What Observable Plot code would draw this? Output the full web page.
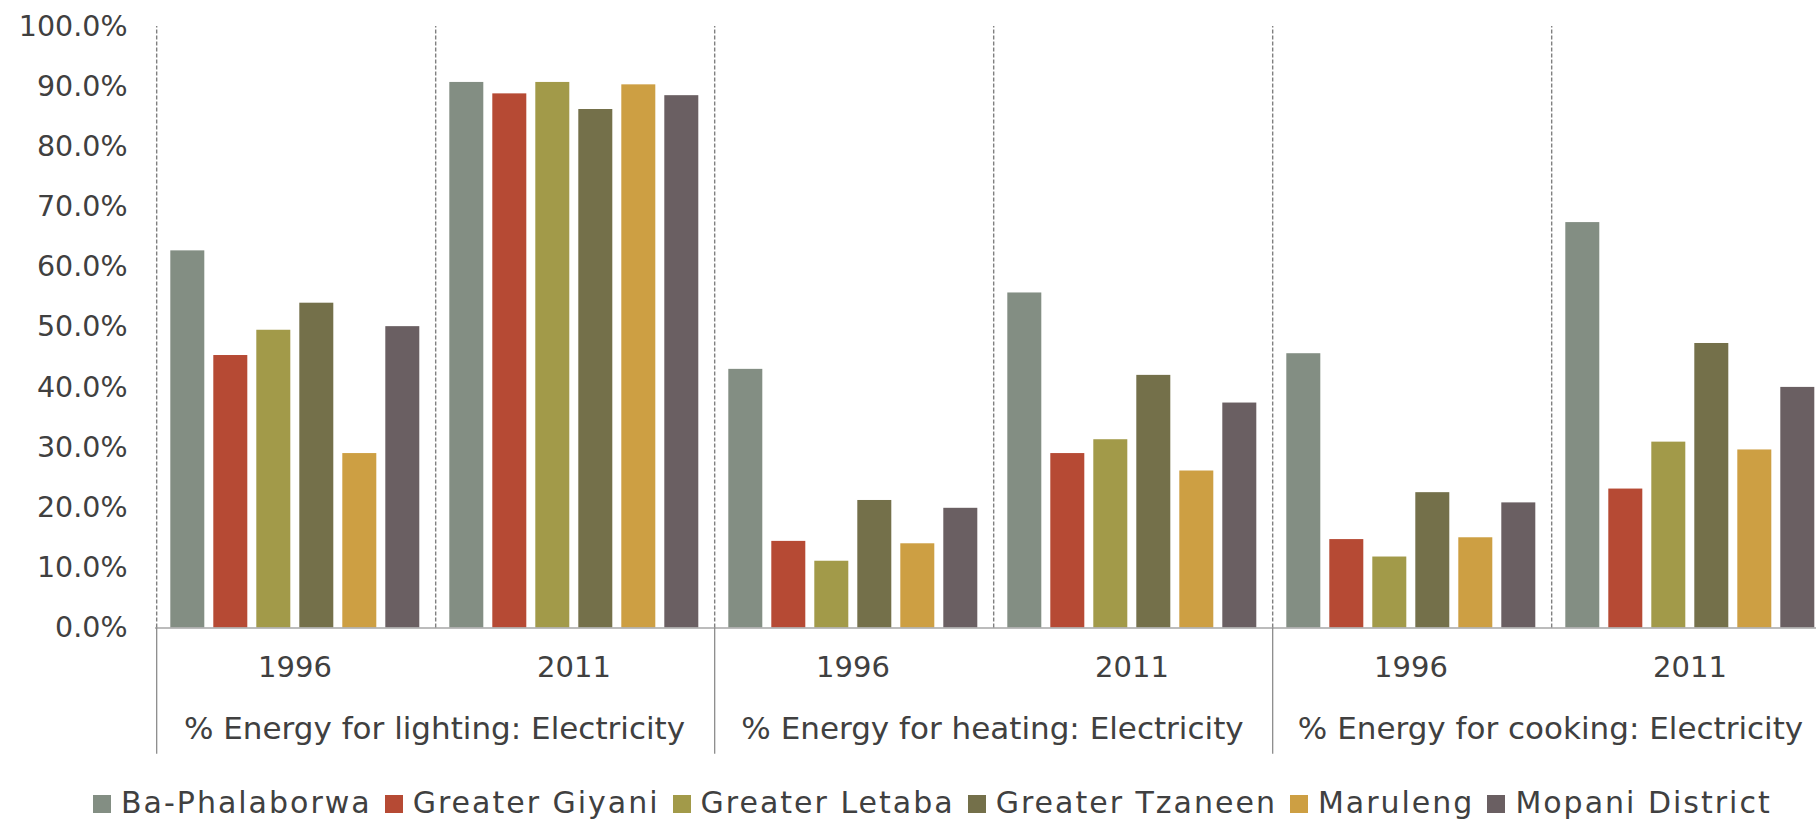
<!DOCTYPE html>
<html>
<head>
<meta charset="utf-8">
<script src="https://cdn.jsdelivr.net/npm/d3@7"></script>
<script src="https://cdn.jsdelivr.net/npm/@observablehq/plot@0.6"></script>
<style>
  html, body { margin: 0; padding: 0; background: #fff; overflow: hidden; width: 1816px; height: 819px; }
  #chart svg { display: block; }
  #legend { display: flex; align-items: baseline; height: 31px; padding-top: 16px; padding-left: 93px;
            font-family: "DejaVu Sans"; font-size: 30px; line-height: 30px; letter-spacing: 2px;
            color: #404040; white-space: nowrap; }
  #legend .item { display: flex; align-items: baseline; margin-right: 13px; }
  #legend .sw { display: inline-block; width: 18px; height: 18px; margin-right: 10px; }
</style>
</head>
<body>
<div id="chart"></div>
<div id="legend"></div>
<script>
// ---- data ----
const categories = ["% Energy for lighting: Electricity", "% Energy for heating: Electricity", "% Energy for cooking: Electricity"];
const years = ["1996", "2011"];
const districts = ["Ba-Phalaborwa", "Greater Giyani", "Greater Letaba", "Greater Tzaneen", "Maruleng", "Mopani District"];
const colors = ["#838e83", "#b64a34", "#a29a49", "#74704a", "#cd9f43", "#6a5f62"];

const lighting1996 = [62.7, 45.3, 49.5, 54.0, 29.0, 50.1];
const lighting2011 = [90.7, 88.8, 90.7, 86.2, 90.3, 88.5];
const heating1996  = [43.0, 14.4, 11.1, 21.2, 14.0, 19.9];
const heating2011  = [55.7, 29.0, 31.3, 42.0, 26.1, 37.4];
const cooking1996  = [45.6, 14.7, 11.8, 22.5, 15.0, 20.8];
const cooking2011  = [67.4, 23.1, 30.9, 47.3, 29.6, 40.0];

const yTicks = [0, 10, 20, 30, 40, 50, 60, 70, 80, 90, 100];

// ---- table ----
const series = [[lighting1996, lighting2011], [heating1996, heating2011], [cooking1996, cooking2011]];
const groups = [];
const groupRows = [];
const rows = [];
categories.forEach((c, ci) => {
  years.forEach((yr, yi) => {
    const g = ci + "|" + yr;
    groups.push(g);
    groupRows.push({group: g, year: yr, category: c, first: yi === 0});
    districts.forEach((d, di) => rows.push({group: g, district: d, value: series[ci][yi][di]}));
  });
});
const catRows = groupRows.filter(d => d.first);

// ---- layout ----
const W = 1832, H = 772, ML = 152.7, MT = 26, MB = H - 627.5;
const pI = 0.21, pO = 0.32;
const facetW = (W - ML) / groups.length;
const step = facetW / (districts.length - pI + 2 * pO);
const edge = step * (1 - pI) / 2 + step * pO;

const chart = Plot.plot({
  width: W, height: H,
  marginLeft: ML, marginRight: 0, marginTop: MT, marginBottom: MB,
  style: {fontFamily: "DejaVu Sans", fontSize: "28.5px", color: "#404040", background: "white", maxWidth: "none", overflow: "visible"},
  fx: {domain: groups, padding: 0, axis: null, label: null},
  x: {domain: districts, paddingInner: pI, paddingOuter: pO, axis: null, label: null},
  y: {domain: [0, 100], ticks: yTicks, tickFormat: d => d.toFixed(1) + "%", tickSize: 0, tickPadding: 28, label: null},
  color: {domain: districts, range: colors},
  marks: [
    Plot.barY(rows, {fx: "group", x: "district", y: "value", fill: "district"}),
    Plot.ruleY([0], {stroke: "#a6a6a6", strokeWidth: 1.7}),
    Plot.ruleX(groupRows, {fx: "group", x: () => districts[0], dx: -edge, y1: 0, y2: 100,
                           stroke: "#808080", strokeWidth: 1.4, strokeDasharray: "4,2"}),
    Plot.ruleX(catRows, {fx: "group", x: () => districts[0], dx: -edge, y1: 0, y2: -21,
                         stroke: "#8c8c8c", strokeWidth: 1.3}),
    Plot.text(groupRows, {fx: "group", frameAnchor: "bottom", text: "year", dy: 49, fontSize: 29, fill: "#404040"}),
    Plot.text(catRows, {fx: "group", frameAnchor: "bottom-right", text: "category", textAnchor: "middle",
                        dy: 111, fontSize: 31, fill: "#404040"})
  ]
});
document.getElementById("chart").appendChild(chart);

// ---- legend ----
const legend = d3.select("#legend");
districts.forEach((d, i) => {
  const item = legend.append("div").attr("class", "item");
  item.append("span").attr("class", "sw").style("background", colors[i]);
  item.append("span").text(d);
});
</script>
</body>
</html>
